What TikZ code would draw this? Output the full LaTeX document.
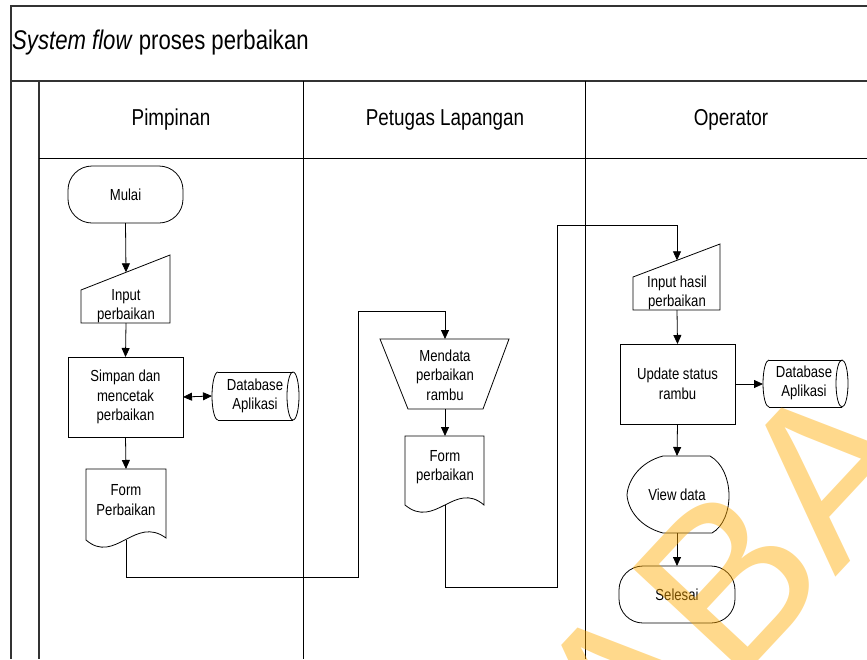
\documentclass[tikz,border=0pt]{standalone}
\usepackage{fontspec}
\setmainfont{Liberation Sans}[FakeStretch=0.82]
\newfontfamily\wmfont{Liberation Sans}
\usetikzlibrary{arrows.meta}
\definecolor{wmorange}{RGB}{255,170,0}

\begin{document}
\begin{tikzpicture}[x=1pt,y=-1pt,
  frame/.style={draw=black!80, line width=1.3pt},
  lane/.style={draw=black, line width=0.9pt},
  outline/.style={draw=black, line width=0.8pt},
  flow/.style={draw=black, line width=0.8pt, -{Triangle[length=9pt,width=8pt]}},
  both/.style={draw=black, line width=0.8pt, {Triangle[length=9pt,width=8pt]}-{Triangle[length=9pt,width=8pt]}},
  txt/.style={align=center, font=\fontsize{16}{19.5}\selectfont, inner sep=0pt},
  lanehead/.style={font=\fontsize{23}{27}\selectfont, inner sep=0pt},
  term/.style={outline, txt, rounded corners=24pt, minimum width=115pt, minimum height=57pt, outer sep=0pt},
  proc/.style={outline, txt, minimum width=115pt, minimum height=80pt, outer sep=0pt},
]
\useasboundingbox (0,0) rectangle (867,659);

% swimlane frame
\draw[frame] (867,6) -- (11,6) -- (11,659);
\draw[frame] (11,81) -- (867,81);
\draw[frame] (39,81) -- (39,659);
\draw[lane] (303,81) -- (303,659);
\draw[lane] (585,81) -- (585,659);
\draw[lane] (39,158) -- (867,158);

\node[anchor=west, font=\fontsize{27}{32}\selectfont, inner sep=0pt] (title) at (12,43) {\textit{System flow} proses perbaikan};
\node[lanehead] (hpim) at (171,120) {Pimpinan};
\node[lanehead] (hpet) at (445,120) {Petugas Lapangan};
\node[lanehead] (hope) at (731,120) {Operator};

% ---- Pimpinan ----
\node[term] (mulai) at (125.5,194.5) {Mulai};

\draw[outline] (81,290) -- (170,255) -- (170,323) -- (81,323) -- cycle;
\node[txt] (inp) at (126,306) {Input\\perbaikan};
\coordinate (inpN) at (126,272.3);
\coordinate (inpS) at (126,323);

\node[proc] (simpan) at (125.5,397) {Simpan dan\\mencetak\\perbaikan};

\draw[outline] (218,372) -- (293,372) (218,420) -- (293,420);
\draw[outline] (218,372) arc[start angle=270, end angle=90, x radius=6, y radius=24];
\draw[outline] (293,396) ellipse[x radius=6, y radius=24];
\node[txt] (dbA) at (255,396) {Database\\Aplikasi};
\coordinate (dbAW) at (212,396);

\draw[outline] (86,469) -- (166,469) -- (166,538) .. controls (135,515) and (115,565) .. (86,540) -- cycle;
\node[txt] (formA) at (126,500) {Form\\Perbaikan};
\coordinate (formAN) at (126,469);
\coordinate (formAS) at (126,540);

% ---- Petugas Lapangan ----
\draw[outline] (380,339) -- (509,339) -- (483,409) -- (408,409) -- cycle;
\node[txt] (mendata) at (445,375) {Mendata\\perbaikan\\rambu};
\coordinate (mendN) at (445,339);
\coordinate (mendS) at (445,409);

\draw[outline] (405,436) -- (484,436) -- (484,505) .. controls (455,480) and (435,530) .. (405,505) -- cycle;
\node[txt] (formB) at (445,467) {Form\\perbaikan};
\coordinate (formBN) at (445,436);
\coordinate (formBS) at (445,505);

% ---- Operator ----
\draw[outline] (633,277) -- (720,244) -- (720,310) -- (633,310) -- cycle;
\node[txt] (inhasil) at (677,293) {Input hasil\\perbaikan};
\coordinate (inhN) at (677,260.3);
\coordinate (inhS) at (677,310);

\node[proc] (update) at (677.5,384) {Update status\\rambu};

\draw[outline] (769,360) -- (842,360) (769,407) -- (842,407);
\draw[outline] (769,360) arc[start angle=270, end angle=90, x radius=6, y radius=23.5];
\draw[outline] (842,383.5) ellipse[x radius=6, y radius=23.5];
\node[txt] (dbB) at (804,383) {Database\\Aplikasi};
\coordinate (dbBW) at (763,384);

\draw[outline] (663,456) -- (710,456) .. controls (735,470) and (735,520) .. (712,533) -- (663,533)
  .. controls (640,527) and (628,510) .. (627,495) .. controls (628,480) and (640,462) .. (663,456) -- cycle;
\node[txt] (view) at (677,495) {View data};
\coordinate (viewN) at (677,456);
\coordinate (viewS) at (677,533);

\node[term, minimum width=116pt] (selesai) at (677,594.5) {Selesai};

% ---- connectors ----
\draw[flow] (mulai.south) -- (inpN);
\draw[flow] (inpS) -- (simpan.north);
\draw[both] (simpan.east) -- (dbAW);
\draw[flow] (simpan.south) -- (formAN);
\coordinate (c1) at (358,577);
\coordinate (c2) at (358,311);
\draw[flow] (formAS) |- (c1) -- (c2) -| (mendN);
\draw[flow] (mendS) -- (formBN);
\coordinate (c3) at (557,587);
\coordinate (c4) at (557,225);
\draw[flow] (formBS) |- (c3) -- (c4) -| (inhN);
\draw[flow] (inhS) -- (update.north);
\draw[flow] (update.east) -- (dbBW);
\draw[flow] (update.south) -- (viewN);
\draw[flow] (viewS) -- (selesai.north);

% watermark lettering
\node[font=\wmfont\fontsize{225}{225}\selectfont, text=wmorange, opacity=0.45, rotate=47, inner sep=0pt] (wm) at (728,580) {ABA};
\end{tikzpicture}
\end{document}
